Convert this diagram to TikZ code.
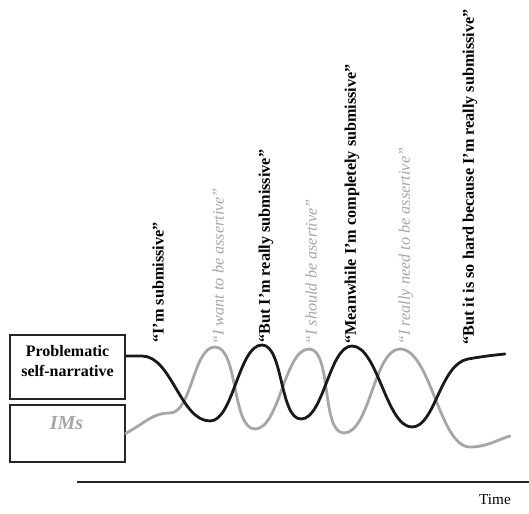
\documentclass[tikz,border=0pt]{standalone}
\usepackage{fontspec}
\setmainfont{Liberation Serif}
\definecolor{imgray}{gray}{0.65}
\tikzstyle{box}=[draw=black!85,line width=0.6pt,minimum width=57.5pt,inner sep=0pt]
\tikzstyle{selfline}=[line width=1.4pt,black!90,line cap=round]
\tikzstyle{imline}=[line width=1.4pt,imgray,line cap=round]
\tikzstyle{selfsay}=[rotate=90,anchor=west,inner sep=0pt,font=\fontsize{8.1}{9.7}\selectfont\bfseries]
\tikzstyle{imsay}=[rotate=90,anchor=west,inner sep=0pt,text=imgray,font=\fontsize{8.1}{9.7}\selectfont\itshape]
\begin{document}
\begin{tikzpicture}[x=0.5pt,y=-0.5pt]  % pixel grid, y down
\useasboundingbox (0,0) rectangle (529,513);

\node[box,minimum height=32pt] (psn) at (67.5,367) {};
\node[font=\fontsize{8}{10}\selectfont\bfseries,align=center] (psntext) at (67.5,361) {Problematic\\self-narrative};
\node[box,minimum height=28.5pt] (ims) at (67.5,433.5) {};
\node[font=\fontsize{10}{12}\selectfont\bfseries\itshape,text=imgray] (imstext) at (66.5,423) {IMs};

\draw[imline] (ims.east)
      .. controls (148,421) and (153,413) .. (170,413)
      to[out=0,in=180,looseness=0.7] (215,347)
      to[out=0,in=180,looseness=0.65] (255,429)
      to[out=0,in=180,looseness=0.65] (309,349)
      to[out=0,in=180,looseness=0.65] (344,433)
      to[out=0,in=180,looseness=0.65] (400,349)
      to[out=0,in=180,looseness=0.65] (470,447)
      to[out=0,in=198] (510,436);

\draw[selfline] ([yshift=5.5pt]psn.east)
      -- (142,356)
      to[out=0,in=180,looseness=0.8] (210,421)
      to[out=0,in=180,looseness=0.65] (262,345)
      to[out=0,in=180,looseness=0.65] (301,419)
      to[out=0,in=180,looseness=0.65] (352,346)
      to[out=0,in=180,looseness=0.65] (412,427)
      .. controls (435,427) and (440,364) .. (468,359)
      .. controls (485,356) and (495,355) .. (505,354);

\node[selfsay] (say1) at (158,343) {“I’m submissive”};
\node[imsay] (im1) at (218,345) {“I want to be assertive”};
\node[selfsay] (say2) at (266,343) {“But I’m really submissive”};
\node[imsay] (im2) at (311,345) {“I should be asertive”};
\node[selfsay] (say3) at (352,344) {“Meanwhile I’m completely submissive”};
\node[imsay] (im3) at (406,345) {“I really need to be assertive”};
\node[selfsay] (say4) at (470,345) {“But it is so hard because I’m really submissive”};

\coordinate (t0) at (77,482);
\coordinate (t1) at (529,482);
\draw[line width=1pt,black!85] (t0) -- (t1);
\node[font=\fontsize{7.6}{9}\selectfont] (time) at (495,500) {Time};
\end{tikzpicture}
\end{document}
